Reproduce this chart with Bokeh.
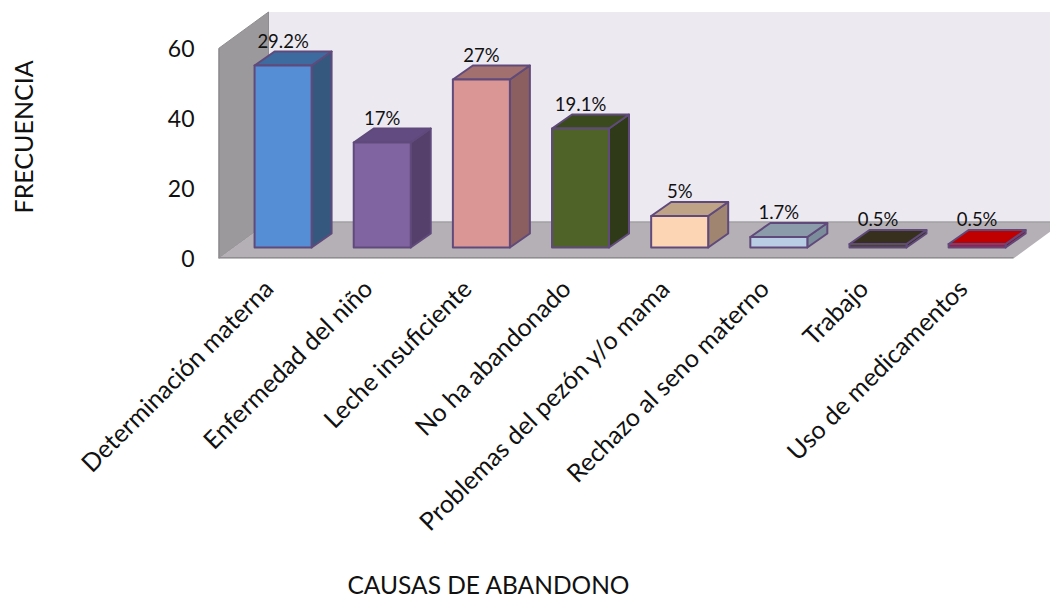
from math import pi

from bokeh.core.properties import value
from bokeh.embed import file_html
from bokeh.models import ColumnDataSource, FixedTicker, Range1d, Title
from bokeh.plotting import figure
from bokeh.resources import INLINE

# Survey results: reasons for abandoning breastfeeding
causes = [
    "Determinación materna", "Enfermedad del niño", "Leche insuficiente",
    "No ha abandonado", "Problemas del pezón y/o mama",
    "Rechazo al seno materno", "Trabajo", "Uso de medicamentos",
]
counts = [52, 30, 48, 34, 9, 3, 1, 1]
percent_labels = ["29.2%", "17%", "27%", "19.1%", "5%", "1.7%", "0.5%", "0.5%"]
front_colors = ["#558ed5", "#8064a2", "#d99694", "#4f6228", "#fcd5b5", "#b9cde5", "#4a452a", "#b5123c"]
top_colors = ["#3d6a9f", "#624b80", "#a2706e", "#3a4a1d", "#bea387", "#8c9baa", "#38301f", "#c00000"]
side_colors = ["#35587f", "#54406b", "#8b5f5f", "#2f3b18", "#a08670", "#7b8c9b", "#38301f", "#8a1030"]
y_ticks = [0, 20, 40, 60]

WIDTH, HEIGHT = 1050, 599
AXIS_BOTTOM_PX = 258          # pixel row of the value 0 on the front plane
PX_PER_UNIT = 3.5             # vertical scale
PX_PER_CAT = 99.15            # horizontal scale
FRAME_LEFT_PX = 218

# Oblique projection depths, in data units
WALL_DX, WALL_DY = 50 / PX_PER_CAT, 36.5 / PX_PER_UNIT
BAR_DX, BAR_DY = 20 / PX_PER_CAT, 14 / PX_PER_UNIT
BAR_W = 57 / PX_PER_CAT
BAR_OFFSET = 15 / PX_PER_CAT
BAR_BASE = 11 / PX_PER_UNIT

x_end = (WIDTH - FRAME_LEFT_PX) / PX_PER_CAT
y_end = AXIS_BOTTOM_PX / PX_PER_UNIT

p = figure(
    width=WIDTH, height=HEIGHT, output_backend="svg", toolbar_location=None,
    x_range=Range1d(0, x_end), y_range=Range1d(0, y_end),
    min_border_left=FRAME_LEFT_PX, min_border_right=0, min_border_top=0,
    min_border_bottom=HEIGHT - AXIS_BOTTOM_PX,
    outline_line_color=None, background_fill_color="white",
)
p.grid.visible = False

label_font = "Lato"
n = len(causes)
positions = [i + 0.5 for i in range(n)]

# Horizontal axis with slanted cause names; a blank label spaces the title away
p.xaxis.ticker = FixedTicker(ticks=positions)
p.xaxis.major_label_overrides = {pos: name for pos, name in zip(positions, causes)}
p.xaxis.major_label_orientation = pi / 4
p.xaxis.major_label_text_font = label_font
p.xaxis.major_label_text_font_size = "25px"
p.xaxis.major_label_text_color = "#111111"
p.xaxis.major_label_standoff = 19
p.xaxis.axis_line_color = None
p.xaxis.major_tick_line_color = None
p.xaxis.minor_tick_line_color = None
p.xaxis.axis_label = " "
p.xaxis.axis_label_text_font_size = "1px"
p.xaxis.axis_label_standoff = 14

# Vertical axis
p.yaxis.ticker = FixedTicker(ticks=y_ticks)
p.yaxis.major_label_text_font = label_font
p.yaxis.major_label_text_font_size = "23px"
p.yaxis.major_label_text_color = "#111111"
p.yaxis.major_label_standoff = 18
p.yaxis.axis_line_color = None
p.yaxis.major_tick_line_color = None
p.yaxis.minor_tick_line_color = None
p.yaxis.axis_label = " "
p.yaxis.axis_label_text_font_size = "1px"
p.yaxis.axis_label_standoff = 123

# Back wall, side wall and floor of the chart box
top_val = y_ticks[-1]
p.patch([WALL_DX, x_end + 1, x_end + 1, WALL_DX],
        [WALL_DY, WALL_DY, top_val + WALL_DY, top_val + WALL_DY],
        fill_color="#ece9f1", line_color=None)
p.patch([0, WALL_DX, WALL_DX, 0], [0, WALL_DY, top_val + WALL_DY, top_val],
        fill_color="#9b999b", line_color="#8f8d90", line_width=1)
floor_end = 795 / PX_PER_CAT
p.patch([0, floor_end, floor_end + WALL_DX, WALL_DX], [0, 0, WALL_DY, WALL_DY],
        fill_color="#b5b0b5", line_color=None)
p.line([WALL_DX, x_end], [WALL_DY, WALL_DY], line_color="#a3a1a4", line_width=1.5)
p.line([0, floor_end], [0, 0], line_color="#8f8d90", line_width=3)
p.line([0, 0], [0, top_val], line_color="#8f8d90", line_width=3)

# One oblique box per cause, each face built from the bar's count
for i in range(n):
    left = positions[i] + BAR_OFFSET - BAR_W / 2
    right = left + BAR_W
    lo, hi = BAR_BASE, BAR_BASE + counts[i]
    stroke = dict(line_color="#604a7b", line_width=2, line_join="round")
    p.patch([right, right + BAR_DX, right + BAR_DX, right],
            [lo, lo + BAR_DY, hi + BAR_DY, hi], fill_color=side_colors[i], **stroke)
    p.patch([left, right, right + BAR_DX, left + BAR_DX],
            [hi, hi, hi + BAR_DY, hi + BAR_DY], fill_color=top_colors[i], **stroke)
    p.patch([left, right, right, left], [lo, lo, hi, hi], fill_color=front_colors[i], **stroke)

# Percentage above each bar
label_source = ColumnDataSource(dict(
    x=[pos + BAR_OFFSET for pos in positions],
    y=[BAR_BASE + c + BAR_DY for c in counts],
    text=percent_labels,
))
p.text("x", "y", text="text", source=label_source, text_font=value(label_font),
       text_font_size="18.5px", text_align="center", text_baseline="bottom",
       text_color="#111111")

# Axis titles, offset from the frame's lower left corner
p.add_layout(Title(text="CAUSAS DE ABANDONO", align="left", offset=347 - FRAME_LEFT_PX, standoff=0,
                   text_font=label_font, text_font_size="24.5px", text_font_style="normal",
                   text_color="#111111"), "below")
p.add_layout(Title(text="FRECUENCIA", align="left", offset=AXIS_BOTTOM_PX - 213, standoff=0,
                   text_font=label_font, text_font_size="25px", text_font_style="normal",
                   text_color="#111111"), "left")

open("out.html", "w").write(file_html(p, INLINE))
